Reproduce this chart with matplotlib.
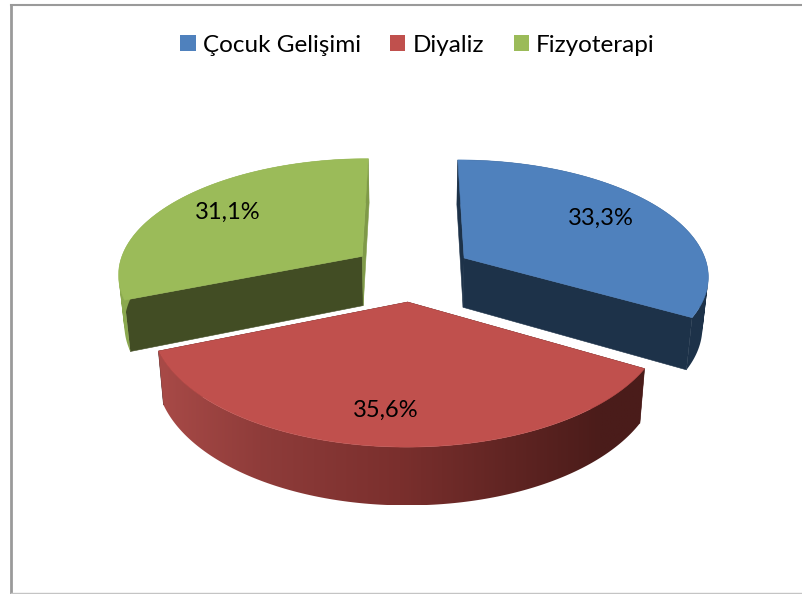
"""Pastel 3D dividido: distribución por unidad."""
import numpy as np
import matplotlib
matplotlib.use("Agg")
import matplotlib.pyplot as plt
from matplotlib.colors import to_rgb
from matplotlib.patches import Patch, Polygon
from matplotlib.path import Path

plt.rcParams["font.family"] = ["Lato", "DejaVu Sans"]

# Datos
categorias = ["Çocuk Gelişimi", "Diyaliz", "Fizyoterapi"]
valores = [33.3, 35.6, 31.1]

COLORES = ["#4F81BD", "#C0504D", "#9BBB59"]
CARA_INICIO = ["#1D3249", "#4A1C1A", "#424D24"]
CARA_FIN = ["#1D3249", "#4A1C1A", "#7F9A48"]
LATERAL = [
    [(450, "#1D3249"), (720, "#1D3249")],
    [(160, "#A84A47"), (260, "#8F3C3A"), (400, "#7A2F2D"), (600, "#4B1C1A"), (650, "#4A1C1A")],
    [(110, "#8CAA50"), (370, "#7F9A48")],
]
POS_ETIQUETA = [(601, 218), (386, 410), (228, 212)]

# Proyección en píxeles de la imagen
CX, CY = 412, 272.2
A, H, K = 245, 115.5, 0.14
PROF, ESCALA_BASE = 50, 0.98
EXPLOSION = 0.25


def proyectar(u, v, base=False):
    s = 1 / (1 - K * v)
    x = CX + A * u * s
    y = CY + H * v * s
    if base:
        x = CX + (x - CX) * ESCALA_BASE
        y = y + PROF * s ** 0.8
    return x, y


def degradado(paradas, x0, x1):
    """Fila de colores RGB entre x0 y x1, para usar con imshow."""
    xs = [p[0] for p in paradas]
    rgb = np.array([to_rgb(p[1]) for p in paradas])
    px = np.linspace(x0, x1, 256)
    return np.stack([np.interp(px, xs, rgb[:, i]) for i in range(3)], axis=-1)[np.newaxis, :, :]


def trayecto_lateral(xt, yt, xb, yb):
    """Tiras con la misma orientación, para que el recorte no deje huecos."""
    tiras = []
    for j in range(len(xt) - 1):
        q = np.array([(xt[j], yt[j]), (xt[j + 1], yt[j + 1]), (xb[j + 1], yb[j + 1]), (xb[j], yb[j])])
        area = np.sum(q[:, 0] * np.roll(q[:, 1], -1) - np.roll(q[:, 0], -1) * q[:, 1])
        if area < 0:
            q = q[::-1]
        tiras.append(Path(np.vstack([q, q[:1]]), closed=True))
    return Path.make_compound_path(*tiras)


def dibujar_porcion(ax, i, ini, fin):
    medio = np.radians((ini + fin) / 2)
    du, dv = EXPLOSION * np.sin(medio), -EXPLOSION * np.cos(medio)
    ang = np.radians(np.linspace(ini, fin, 160))
    u = np.sin(ang) + du
    v = -np.cos(ang) + dv
    xt, yt = proyectar(u, v)
    xb, yb = proyectar(u, v, base=True)

    # caras radiales
    x0, y0 = proyectar(du, dv)
    x1, y1 = proyectar(du, dv, base=True)
    for k, c in ((0, CARA_INICIO[i]), (-1, CARA_FIN[i])):
        pts = [(x0, y0), (xt[k], yt[k]), (xb[k], yb[k]), (x1, y1)]
        ax.add_patch(Polygon(pts, facecolor=c, edgecolor=c, lw=0.4, zorder=2 + i))

    # lateral curvo con degradado horizontal recortado
    xmin, xmax = min(xt.min(), xb.min()), max(xt.max(), xb.max())
    ymin, ymax = min(yt.min(), yb.min()), max(yt.max(), yb.max())
    im = ax.imshow(degradado(LATERAL[i], xmin, xmax), extent=(xmin, xmax, ymax, ymin),
                   aspect="auto", interpolation="bilinear", zorder=2.2 + i)
    im.set_clip_path(trayecto_lateral(xt, yt, xb, yb), ax.transData)

    # tapa
    pts = [(x0, y0)] + list(zip(xt, yt))
    ax.add_patch(Polygon(pts, facecolor=COLORES[i], edgecolor=COLORES[i], lw=0.4, zorder=2.5 + i))


def main():
    fig = plt.figure(figsize=(8.03, 5.94), dpi=100)
    ax = fig.add_axes([0, 0, 1, 1])
    ax.axis("off")

    # marco
    ax.plot([11.5, 11.5], [5, 594], color="#9A9A9A", lw=2.0, zorder=1)
    ax.plot([11, 803], [5, 5], color="#9A9A9A", lw=1.5, zorder=1)
    ax.plot([11, 803], [593, 593], color="#C4C4C4", lw=1.0, zorder=1)

    total = sum(valores)
    ini = 0
    for i, val in enumerate(valores):
        fin = ini + 360 * val / total
        dibujar_porcion(ax, i, ini, fin)
        ini = fin

    ax.set_xlim(0, 803)
    ax.set_ylim(594, 0)

    for val, (x, y) in zip(valores, POS_ETIQUETA):
        ax.text(x, y, f"{val:.1f}%".replace(".", ","), ha="center", va="center",
                fontsize=17, color="black", zorder=10)

    handles = [Patch(facecolor=c, edgecolor="none") for c in COLORES]
    ax.legend(handles, categorias, ncol=3, loc="center", bbox_to_anchor=(417.5 / 803, 1 - 45 / 594),
              frameon=False, fontsize=17.5, handlelength=0.62, handleheight=0.62,
              handletextpad=0.29, columnspacing=1.22, borderpad=0, labelcolor="black")

    fig.savefig("out.png", dpi=100)
    plt.close(fig)


if __name__ == "__main__":
    main()
